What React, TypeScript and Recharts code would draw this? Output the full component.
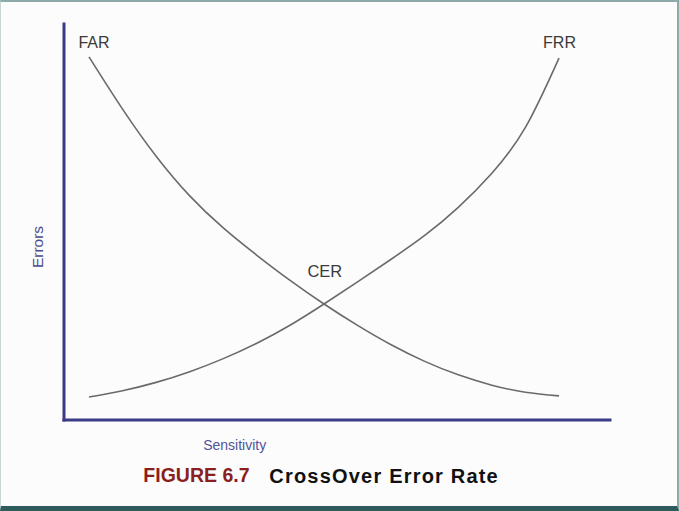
import { LineChart, Line, XAxis, YAxis } from 'recharts'

// sensitivity steps (x) and error levels (0-100 scale)
const sensitivity = [0, 1, 2, 3, 4, 5, 6, 7, 8, 9, 10, 11, 12, 13, 14]
const far = [91.7, 78.5, 66.6, 56.6, 48.5, 41.6, 35.2, 29.3, 23.9, 19.0, 14.8, 11.4, 8.8, 7.0, 6.1]
const frr = [5.8, 7.4, 9.5, 12.2, 15.5, 19.4, 24.0, 29.3, 34.9, 40.6, 46.6, 53.7, 62.3, 73.9, 91.4]

const data = sensitivity.map((s, i) => ({ s, far: far[i], frr: frr[i] }))

const axisColor = '#3b3a86'
const font = '"Liberation Sans", Arial, sans-serif'

function Label({ x, y, size, color, children, bold, rotate, anchor = 'center', spacing = 0 }: any) {
  const tx = anchor === 'center' ? '-50%' : '0'
  return (
    <div
      style={{
        position: 'absolute',
        left: x,
        top: y,
        transform: `translate(${tx}, -50%)${rotate ? ` rotate(${rotate}deg)` : ''}`,
        transformOrigin: anchor === 'center' ? 'center' : 'left center',
        fontFamily: font,
        fontSize: size,
        fontWeight: bold ? 'bold' : 'normal',
        color,
        lineHeight: 1,
        whiteSpace: 'nowrap',
        letterSpacing: spacing,
      }}
    >
      {children}
    </div>
  )
}

export default function App() {
  return (
    <div
      style={{
        position: 'absolute',
        left: 0,
        top: 0,
        width: 679,
        height: 511,
        boxSizing: 'border-box',
        background: '#fbfcfb',
        borderTop: '2px solid #8ea9a9',
        borderRight: '2px solid #8ea9a9',
        borderLeft: '1px solid #c9d6d6',
        borderBottom: '5px solid #2e5c5c',
        overflow: 'hidden',
      }}
    >
      <div style={{ position: 'absolute', left: -1, top: -2 }}>
        <LineChart width={679} height={511} data={data} margin={{ top: 24, right: 69, left: 62, bottom: 89 }}>
          <XAxis
            dataKey="s"
            type="number"
            domain={[0, 14]}
            padding={{ left: 25, right: 51 }}
            tick={false}
            tickLine={false}
            height={2}
            axisLine={{ stroke: axisColor, strokeWidth: 3, strokeLinecap: 'square' }}
          />
          <YAxis
            type="number"
            domain={[0, 100]}
            tick={false}
            tickLine={false}
            width={2}
            axisLine={{ stroke: axisColor, strokeWidth: 3, strokeLinecap: 'square' }}
          />
          <Line type="natural" dataKey="far" stroke="#6a6a6a" strokeWidth={1.6} dot={false} isAnimationActive={false} />
          <Line type="natural" dataKey="frr" stroke="#6a6a6a" strokeWidth={1.6} dot={false} isAnimationActive={false} />
        </LineChart>
      </div>
      <div style={{ position: 'absolute', left: -1, top: -2, width: 679, height: 511, pointerEvents: 'none' }}>
        <Label x={94} y={42.5} size={16} color="#3a3a3a">FAR</Label>
        <Label x={559.5} y={42.5} size={16} color="#3a3a3a">FRR</Label>
        <Label x={324.8} y={271} size={16.5} color="#3a3a3a">CER</Label>
        <Label x={38.4} y={246.5} size={15.5} color="#4b4b8f" rotate={-90}>Errors</Label>
        <Label x={234.7} y={445} size={14} color="#52529a">Sensitivity</Label>
        <Label x={143.3} y={476.3} size={19.5} color="#8b1e1e" bold anchor="left">FIGURE 6.7</Label>
        <Label x={269.3} y={476.3} size={20} color="#111111" bold anchor="left" spacing={1.2}>CrossOver Error Rate</Label>
      </div>
    </div>
  )
}
